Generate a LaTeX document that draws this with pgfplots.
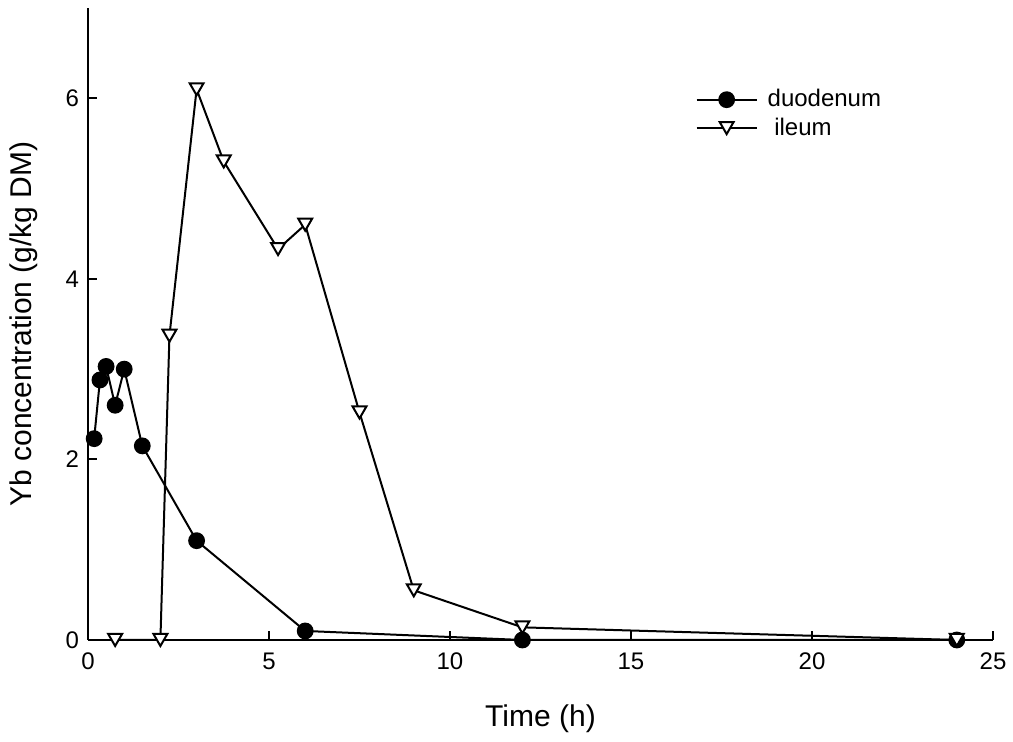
\documentclass[border=0pt]{standalone}
\usepackage{fontspec}
\setmainfont{Liberation Sans}
\usepackage{pgfplots}
\pgfplotsset{compat=1.18}

\begin{document}
\begin{tikzpicture}
\begin{axis}[
  scale only axis, width=452.5pt, height=316pt,
  xmin=0, xmax=25, ymin=0, ymax=7,
  axis x line*=bottom, axis y line*=left,
  axis line style={-, line width=1.2pt},
  xtick={0,5,...,25}, ytick={0,2,4,6},
  xtick align=inside, ytick align=inside, major tick length=4.5pt,
  tick style={line width=1pt, black},
  /pgf/number format/assume math mode=true,
  tick label style={font=\fontsize{12}{14}\selectfont},
  xticklabel style={yshift=-3pt},
  yticklabel style={xshift=-1pt},
  xlabel={Time (h)}, ylabel={Yb concentration (g/kg DM)},
  label style={font=\fontsize{15}{18}\selectfont},
  xlabel style={yshift=-10.5pt},
  ylabel style={yshift=7pt},
  clip=false,
  legend cell align=left,
  legend style={draw=none, fill=none, inner sep=0pt,
    at={(axis description cs:0.671,0.878)}, anchor=north west,
    font=\fontsize{12}{14}\selectfont, row sep=0pt, column sep=3pt},
  legend image code/.code={
    \draw[mark repeat=2, mark phase=2] plot coordinates {(0pt,0pt) (15pt,0pt) (30pt,0pt)};
  },
]
\addplot[black, line width=1pt, mark=*, mark size=3.7pt,
  mark options={fill=black, solid}] coordinates {
  (0.17,2.23) (0.33,2.88) (0.5,3.03) (0.75,2.6) (1,3.0) (1.5,2.15)
  (3,1.1) (6,0.1) (12,0) (24,0)
};
\addlegendentry{duodenum}
\addplot[black, line width=1pt, mark=triangle*, mark size=4pt,
  mark options={fill=white, solid, yshift=1pt, rotate=180}] coordinates {
  (0.75,0) (2,0) (2.25,3.37) (3,6.1) (3.75,5.3) (5.25,4.33) (6,4.6)
  (7.5,2.52) (9,0.55) (12,0.14) (24,0)
};
\addlegendentry{\ ileum}
\path (rel axis cs:0,1) -- ++(0,4pt);
\path (rel axis cs:0,0) -- ++(-44pt,0);
\path (rel axis cs:0,0) -- ++(0,-51pt);
\end{axis}
\end{tikzpicture}
\end{document}
